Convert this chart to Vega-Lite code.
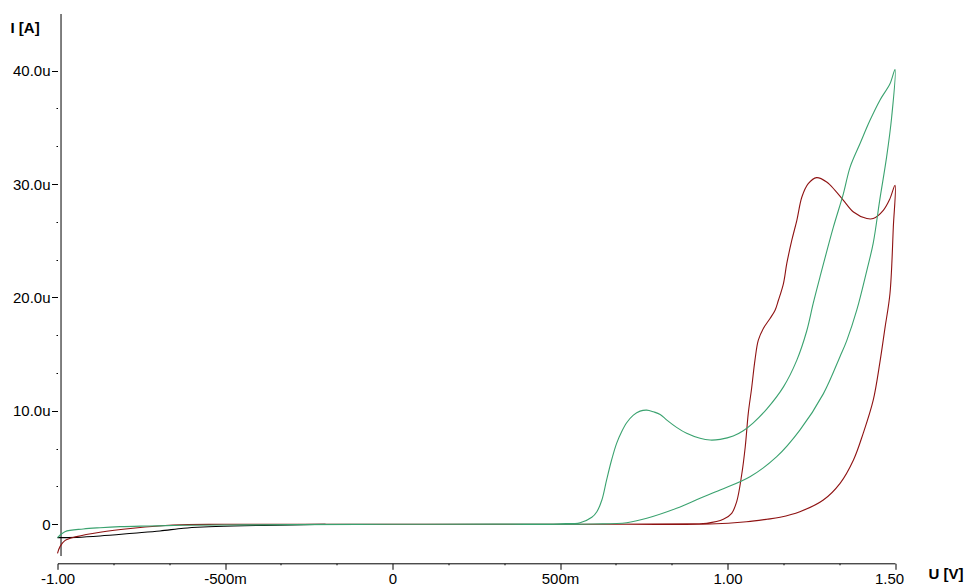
{
  "$schema": "https://vega.github.io/schema/vega-lite/v6.json",
  "width": 837.5,
  "height": 549.3,
  "autosize": {"type": "none"},
  "padding": {"left": 57.5, "top": 14, "right": 70, "bottom": 23.7},
  "background": "white",
  "config": {
    "view": {"stroke": null},
    "axis": {
      "grid": false,
      "labelFont": "Liberation Sans",
      "labelFontSize": 15,
      "labelColor": "#000",
      "titleFont": "Liberation Sans",
      "titleFontSize": 15,
      "titleFontWeight": "bold",
      "titleColor": "#000",
      "domainColor": "#000",
      "tickColor": "#000",
      "labelOverlap": false,
      "labelFlush": false
    }
  },
  "datasets": {
    "black": [
      {"i": 1, "U": -1.0, "I": -1.18},
      {"i": 2, "U": -0.943, "I": -1.15},
      {"i": 3, "U": -0.873, "I": -1.03},
      {"i": 4, "U": -0.774, "I": -0.79},
      {"i": 5, "U": -0.694, "I": -0.59},
      {"i": 6, "U": -0.624, "I": -0.35},
      {"i": 7, "U": -0.565, "I": -0.24},
      {"i": 8, "U": -0.475, "I": -0.15},
      {"i": 9, "U": -0.3, "I": -0.05},
      {"i": 10, "U": -0.2, "I": 0.0}
    ],
    "red": [
      {"i": 1, "U": -1.0, "I": -2.56},
      {"i": 2, "U": -0.9925, "I": -1.97},
      {"i": 3, "U": -0.978, "I": -1.44},
      {"i": 4, "U": -0.943, "I": -1.09},
      {"i": 5, "U": -0.873, "I": -0.70},
      {"i": 6, "U": -0.775, "I": -0.35},
      {"i": 7, "U": -0.655, "I": -0.06},
      {"i": 8, "U": -0.5, "I": 0.0},
      {"i": 9, "U": 0.0, "I": 0.0},
      {"i": 10, "U": 0.5, "I": 0.0},
      {"i": 11, "U": 0.9, "I": 0.05},
      {"i": 12, "U": 0.938, "I": 0.09},
      {"i": 13, "U": 0.9875, "I": 0.44},
      {"i": 14, "U": 1.0125, "I": 0.97},
      {"i": 15, "U": 1.0275, "I": 2.0},
      {"i": 16, "U": 1.042, "I": 4.3},
      {"i": 17, "U": 1.053, "I": 6.84},
      {"i": 18, "U": 1.062, "I": 9.78},
      {"i": 19, "U": 1.072, "I": 12.0},
      {"i": 20, "U": 1.082, "I": 14.48},
      {"i": 21, "U": 1.092, "I": 16.24},
      {"i": 22, "U": 1.107, "I": 17.27},
      {"i": 23, "U": 1.127, "I": 18.15},
      {"i": 24, "U": 1.142, "I": 18.88},
      {"i": 25, "U": 1.152, "I": 19.76},
      {"i": 26, "U": 1.167, "I": 21.23},
      {"i": 27, "U": 1.177, "I": 23.0},
      {"i": 28, "U": 1.192, "I": 25.05},
      {"i": 29, "U": 1.207, "I": 26.81},
      {"i": 30, "U": 1.222, "I": 28.86},
      {"i": 31, "U": 1.241, "I": 30.04},
      {"i": 32, "U": 1.266, "I": 30.57},
      {"i": 33, "U": 1.296, "I": 30.19},
      {"i": 34, "U": 1.321, "I": 29.45},
      {"i": 35, "U": 1.346, "I": 28.57},
      {"i": 36, "U": 1.376, "I": 27.54},
      {"i": 37, "U": 1.416, "I": 26.96},
      {"i": 38, "U": 1.435, "I": 26.96},
      {"i": 39, "U": 1.465, "I": 27.69},
      {"i": 40, "U": 1.485, "I": 28.72},
      {"i": 41, "U": 1.5, "I": 29.89},
      {"i": 42, "U": 1.495, "I": 26.22},
      {"i": 43, "U": 1.485, "I": 20.35},
      {"i": 44, "U": 1.47, "I": 17.3},
      {"i": 45, "U": 1.455, "I": 14.3},
      {"i": 46, "U": 1.435, "I": 10.95},
      {"i": 47, "U": 1.405, "I": 8.02},
      {"i": 48, "U": 1.376, "I": 5.67},
      {"i": 49, "U": 1.336, "I": 3.61},
      {"i": 50, "U": 1.286, "I": 2.14},
      {"i": 51, "U": 1.216, "I": 1.11},
      {"i": 52, "U": 1.157, "I": 0.62},
      {"i": 53, "U": 1.117, "I": 0.44},
      {"i": 54, "U": 1.057, "I": 0.23},
      {"i": 55, "U": 0.948, "I": 0.03},
      {"i": 56, "U": 0.7, "I": 0.0}
    ],
    "green": [
      {"i": 1, "U": -1.0, "I": -1.18},
      {"i": 2, "U": -0.978, "I": -0.65},
      {"i": 3, "U": -0.923, "I": -0.41},
      {"i": 4, "U": -0.873, "I": -0.30},
      {"i": 5, "U": -0.813, "I": -0.21},
      {"i": 6, "U": -0.724, "I": -0.15},
      {"i": 7, "U": -0.625, "I": -0.09},
      {"i": 8, "U": -0.476, "I": -0.06},
      {"i": 9, "U": -0.3, "I": -0.03},
      {"i": 10, "U": 0.0, "I": 0.0},
      {"i": 11, "U": 0.3, "I": 0.02},
      {"i": 12, "U": 0.5, "I": 0.05},
      {"i": 13, "U": 0.56, "I": 0.14},
      {"i": 14, "U": 0.595, "I": 0.62},
      {"i": 15, "U": 0.61, "I": 1.11},
      {"i": 16, "U": 0.625, "I": 2.14},
      {"i": 17, "U": 0.639, "I": 3.9},
      {"i": 18, "U": 0.654, "I": 5.67},
      {"i": 19, "U": 0.669, "I": 7.14},
      {"i": 20, "U": 0.684, "I": 8.16},
      {"i": 21, "U": 0.699, "I": 8.95},
      {"i": 22, "U": 0.719, "I": 9.63},
      {"i": 23, "U": 0.739, "I": 9.98},
      {"i": 24, "U": 0.759, "I": 10.07},
      {"i": 25, "U": 0.779, "I": 9.92},
      {"i": 26, "U": 0.799, "I": 9.69},
      {"i": 27, "U": 0.819, "I": 9.19},
      {"i": 28, "U": 0.848, "I": 8.55},
      {"i": 29, "U": 0.878, "I": 8.02},
      {"i": 30, "U": 0.918, "I": 7.58},
      {"i": 31, "U": 0.948, "I": 7.43},
      {"i": 32, "U": 0.978, "I": 7.49},
      {"i": 33, "U": 1.017, "I": 7.78},
      {"i": 34, "U": 1.047, "I": 8.25},
      {"i": 35, "U": 1.077, "I": 8.95},
      {"i": 36, "U": 1.117, "I": 10.16},
      {"i": 37, "U": 1.167, "I": 12.12},
      {"i": 38, "U": 1.207, "I": 14.48},
      {"i": 39, "U": 1.236, "I": 17.0},
      {"i": 40, "U": 1.256, "I": 19.5},
      {"i": 41, "U": 1.276, "I": 21.8},
      {"i": 42, "U": 1.316, "I": 26.2},
      {"i": 43, "U": 1.346, "I": 29.16},
      {"i": 44, "U": 1.366, "I": 31.5},
      {"i": 45, "U": 1.396, "I": 33.6},
      {"i": 46, "U": 1.425, "I": 35.6},
      {"i": 47, "U": 1.455, "I": 37.4},
      {"i": 48, "U": 1.485, "I": 38.85},
      {"i": 49, "U": 1.5, "I": 40.1},
      {"i": 50, "U": 1.49, "I": 35.9},
      {"i": 51, "U": 1.475, "I": 32.4},
      {"i": 52, "U": 1.455, "I": 28.7},
      {"i": 53, "U": 1.435, "I": 24.8},
      {"i": 54, "U": 1.416, "I": 22.4},
      {"i": 55, "U": 1.386, "I": 18.9},
      {"i": 56, "U": 1.356, "I": 16.2},
      {"i": 57, "U": 1.336, "I": 14.8},
      {"i": 58, "U": 1.286, "I": 11.5},
      {"i": 59, "U": 1.216, "I": 8.3},
      {"i": 60, "U": 1.147, "I": 5.96},
      {"i": 61, "U": 1.067, "I": 4.19},
      {"i": 62, "U": 0.978, "I": 3.02},
      {"i": 63, "U": 0.918, "I": 2.29},
      {"i": 64, "U": 0.848, "I": 1.41},
      {"i": 65, "U": 0.759, "I": 0.53},
      {"i": 66, "U": 0.699, "I": 0.14},
      {"i": 67, "U": 0.6, "I": 0.02},
      {"i": 68, "U": 0.3, "I": 0.0},
      {"i": 69, "U": 0.0, "I": 0.0},
      {"i": 70, "U": -0.3, "I": -0.03}
    ]
  },
  "layer": [
    {
      "data": {"values": [{"a": 1}]},
      "mark": {"type": "rule", "color": "#000", "strokeWidth": 1},
      "encoding": {
        "x": {"datum": -0.9895, "type": "quantitative"},
        "y": {"datum": 45, "type": "quantitative"},
        "y2": {"datum": -2.8}
      }
    },
    {
      "data": {"name": "black"},
      "mark": {"type": "line", "color": "#000000", "strokeWidth": 1.1, "interpolate": "catmull-rom"},
      "encoding": {
        "x": {"field": "U", "type": "quantitative"},
        "y": {"field": "I", "type": "quantitative"},
        "order": {"field": "i", "type": "quantitative"}
      }
    },
    {
      "data": {"name": "red"},
      "mark": {"type": "line", "color": "#8e1212", "strokeWidth": 1.1, "interpolate": "catmull-rom"},
      "encoding": {
        "x": {
          "field": "U",
          "type": "quantitative",
          "scale": {"domain": [-1, 1.5], "nice": false, "zero": false},
          "axis": {
            "title": "U [V]",
            "values": [-1, -0.8333, -0.6667, -0.5, -0.3333, -0.1667, 0, 0.1667, 0.3333, 0.5, 0.6667, 0.8333, 1, 1.1667, 1.3333, 1.5],
            "labelExpr": "abs(datum.value*2 - round(datum.value*2)) > 0.001 ? '' : datum.value == 0 ? '0\u00a0' : abs(datum.value) < 0.999 ? (datum.value < 0 ? '-' : '') + format(abs(datum.value)*1000, 'd') + 'm' : (datum.value < 0 ? '-' : '') + format(abs(datum.value), '.2f')",
            "tickSize": {"condition": {"test": "abs(datum.value*2 - round(datum.value*2)) < 0.001", "value": 6}, "value": 1.5},
            "labelOffset": {"condition": {"test": "datum.value > 1.49", "value": -6}, "value": 0},
            "labelPadding": 2,
            "domainWidth": 1,
            "titleX": 870.5,
            "titleY": 9.7,
            "titleAlign": "left",
            "titleBaseline": "middle"
          }
        },
        "y": {
          "field": "I",
          "type": "quantitative",
          "scale": {"domain": [-3.44, 45], "nice": false, "zero": false},
          "axis": {
            "title": "I [A]",
            "values": [0, 3.3333, 6.6667, 10, 13.3333, 16.6667, 20, 23.3333, 26.6667, 30, 33.3333, 36.6667, 40],
            "labelExpr": "abs(datum.value % 10) > 0.001 ? '' : datum.value == 0 ? '0\u00a0' : format(datum.value, '.1f') + 'u'",
            "tickSize": {"condition": {"test": "abs(datum.value % 10) < 0.001", "value": 6}, "value": 1.5},
            "labelPadding": 1.5,
            "domain": false,
            "titleAngle": 0,
            "titleX": -47.5,
            "titleY": 13,
            "titleAlign": "left",
            "titleBaseline": "middle"
          }
        },
        "order": {"field": "i", "type": "quantitative"}
      }
    },
    {
      "data": {"name": "green"},
      "mark": {"type": "line", "color": "#3aa26f", "strokeWidth": 1.1, "interpolate": "catmull-rom"},
      "encoding": {
        "x": {"field": "U", "type": "quantitative"},
        "y": {"field": "I", "type": "quantitative"},
        "order": {"field": "i", "type": "quantitative"}
      }
    }
  ]
}
